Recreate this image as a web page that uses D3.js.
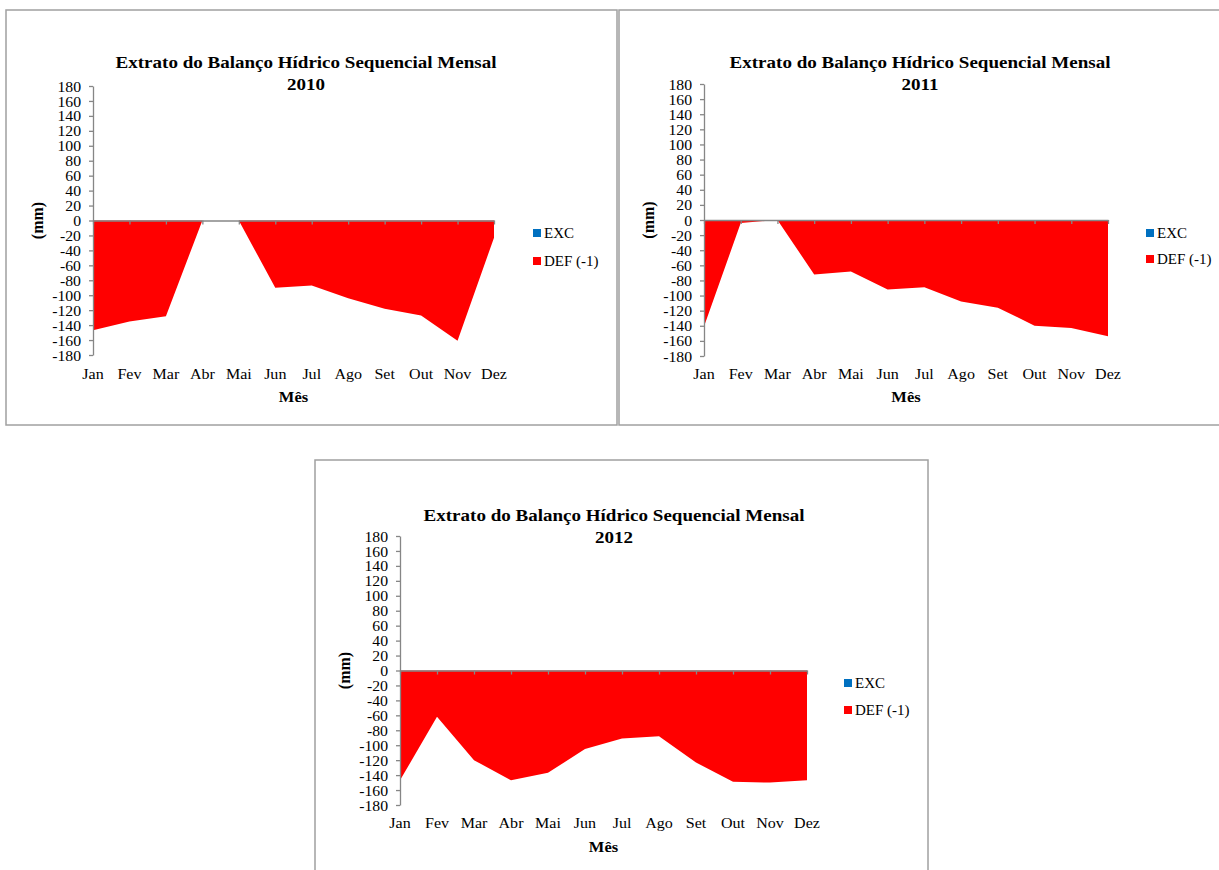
<!DOCTYPE html>
<html>
<head>
<meta charset="utf-8">
<script src="https://cdn.jsdelivr.net/npm/d3@7"></script>
<style>
  html, body { margin: 0; padding: 0; background: #fff; overflow: hidden; }
  svg { display: block; }
</style>
</head>
<body>
<svg id="chart" width="1219" height="870"></svg>
<script>
// ---------- DATA ----------
const months = ["Jan", "Fev", "Mar", "Abr", "Mai", "Jun", "Jul", "Ago", "Set", "Out", "Nov", "Dez"];
const yTicks = [180, 160, 140, 120, 100, 80, 60, 40, 20, 0, -20, -40, -60, -80, -100, -120, -140, -160, -180];
const seriesNames = ["EXC", "DEF (-1)"];
const chartTitle = "Extrato do Balanço Hídrico Sequencial Mensal";
const xTitle = "Mês";
const yTitle = "(mm)";
const years = ["2010", "2011", "2012"];

const exc2010 = [0, 0, 0, 0, 0, 0, 0, 0, 0, 0, 0, 0];
const def2010 = [-147, -135, -128, 0, 0, -90, -87, -104, -118, -127, -161, -23];
const exc2011 = [0, 0, 0, 0, 0, 0, 0, 0, 0, 0, 0, 0];
const def2011 = [-141, -4, 0, -72, -68, -92, -89, -108, -116, -140, -143, -154];
const exc2012 = [0, 0, 0, 0, 0, 0, 0, 0, 0, 0, 0, 0];
const def2012 = [-147, -62, -120, -147, -137, -105, -91, -88, -123, -149, -150, -147];

// ---------- LAYOUT ----------
const layouts = [
  { box: [6, 10, 611, 415], plot: [93, 86, 494, 355], titleX: 306, titleY: [68, 90], legX: 533, legY: [233, 261], monthY: 379, xTitleY: 402, yTitleX: 37 },
  { box: [619, 10, 640, 415], plot: [704, 84, 1108, 356], titleX: 920, titleY: [68, 90], legX: 1146, legY: [233, 259], monthY: 379, xTitleY: 402, yTitleX: 648 },
  { box: [315, 460, 613, 430], plot: [400, 536, 807, 805], titleX: 614, titleY: [521, 543], legX: 844, legY: [683, 710], monthY: 828, xTitleY: 852, yTitleX: 344 }
];
const excs = [exc2010, exc2011, exc2012];
const defs = [def2010, def2011, def2012];

const FONT = "'Liberation Serif', 'Times New Roman', serif";
const AXIS = "#868686";
const RED = "#ff0000";
const BLUE = "#0070c0";

const svg = d3.select("#chart");

function drawChart(L, year, exc, def) {
  const g = svg.append("g");
  const [bx, by, bw, bh] = L.box;
  g.append("rect").attr("x", bx).attr("y", by).attr("width", bw).attr("height", bh)
    .attr("fill", "#fff").attr("stroke", "#a0a0a0").attr("stroke-width", 1.5);

  const [x0, y0, x1, y1] = L.plot;
  const x = d3.scalePoint().domain(months).range([x0, x1]);
  const y = d3.scaleLinear().domain([-180, 180]).range([y1, y0]);

  const rowsDef = months.map((m, i) => ({ m, v: def[i] }));
  const rowsExc = months.map((m, i) => ({ m, v: exc[i] }));
  const area = d3.area().x(d => x(d.m)).y0(y(0)).y1(d => y(d.v));

  g.append("path").datum(rowsExc).attr("d", area).attr("fill", BLUE);
  g.append("path").datum(rowsDef).attr("d", area).attr("fill", RED);

  // Y axis
  const ya = g.append("g").attr("transform", `translate(${x0},0)`)
    .call(d3.axisLeft(y).tickValues(yTicks).tickSize(4).tickSizeOuter(0).tickFormat(d3.format("d")));
  ya.attr("font-family", FONT);
  ya.selectAll("path, line").attr("stroke", AXIS).attr("stroke-width", 1.3);
  ya.selectAll("text")
    .attr("x", 0).attr("dy", "0.34em")
    .attr("transform", "translate(-12,0) scale(1.05,1)")
    .attr("fill", "#000").attr("font-family", FONT).attr("font-size", 15).attr("text-anchor", "end")
    .text(d => d < 0 ? "-" + Math.abs(d) : d);

  // X axis at zero
  const xa = g.append("g").attr("transform", `translate(0,${y(0)})`)
    .call(d3.axisBottom(x).tickSize(4).tickSizeOuter(0).tickFormat(""));
  xa.selectAll("path, line").attr("stroke", AXIS).attr("stroke-width", 1.3);

  // Month labels
  g.selectAll("text.month").data(months).enter().append("text")
    .attr("class", "month")
    .attr("transform", d => `translate(${x(d)},${L.monthY}) scale(1.07,1)`)
    .attr("text-anchor", "middle").attr("font-family", FONT).attr("font-size", 15)
    .text(d => d);

  // Titles
  g.append("text").attr("transform", `translate(${L.titleX},${L.titleY[0]}) scale(1.1,1)`)
    .attr("text-anchor", "middle").attr("font-family", FONT).attr("font-size", 17.3).attr("font-weight", "bold")
    .text(chartTitle);
  g.append("text").attr("transform", `translate(${L.titleX},${L.titleY[1]}) scale(1.1,1)`)
    .attr("text-anchor", "middle").attr("font-family", FONT).attr("font-size", 17.3).attr("font-weight", "bold")
    .text(year);

  // Axis titles
  g.append("text").attr("transform", `translate(${(x0 + x1) / 2},${L.xTitleY}) scale(1.1,1)`)
    .attr("text-anchor", "middle").attr("font-family", FONT).attr("font-size", 15).attr("font-weight", "bold")
    .text(xTitle);
  g.append("text").attr("transform", `translate(${L.yTitleX},${y(0)}) rotate(-90)`)
    .attr("text-anchor", "middle").attr("dy", "0.35em").attr("font-family", FONT).attr("font-size", 16).attr("font-weight", "bold")
    .text(yTitle);

  // Legend
  const colors = [BLUE, RED];
  seriesNames.forEach((name, i) => {
    const ly = L.legY[i];
    g.append("rect").attr("x", L.legX).attr("y", ly - 4).attr("width", 8).attr("height", 8).attr("fill", colors[i]);
    g.append("text").attr("x", L.legX + 11).attr("y", ly).attr("dy", "0.35em")
      .attr("font-family", FONT).attr("font-size", 15).text(name);
  });
}

layouts.forEach((L, i) => drawChart(L, years[i], excs[i], defs[i]));
</script>
</body>
</html>
